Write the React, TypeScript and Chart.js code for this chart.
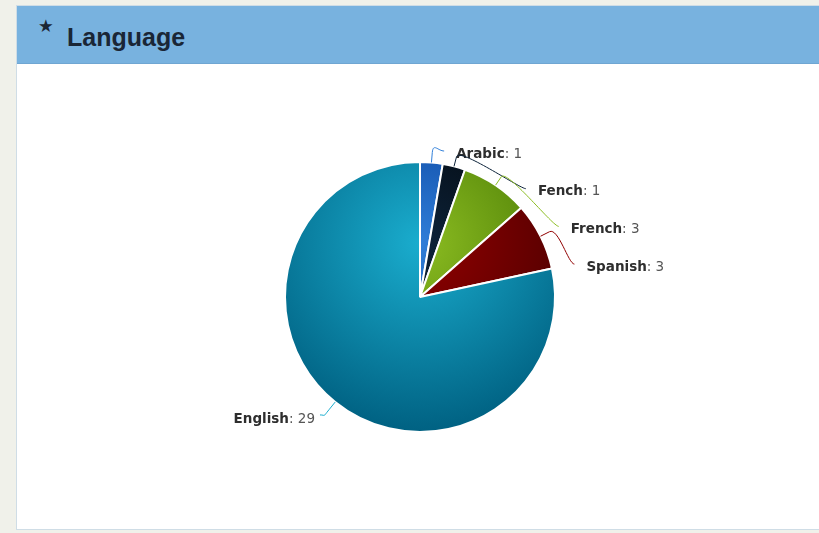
import React, { useEffect, useRef } from "react";
import { Chart, registerables } from "chart.js";

Chart.register(...registerables);

const categories = ["Arabic", "Fench", "French", "Spanish", "English"];
const counts = [1, 1, 3, 3, 29];
const baseColors = ["#2f7ed8", "#0d233a", "#8bbc21", "#910000", "#1aadce"];
const chartTitle = "Language";

const PIE_R = 135;

function darken(hex: string, amt: number) {
  const n = parseInt(hex.slice(1), 16);
  const r = Math.max(0, Math.min(255, ((n >> 16) & 255) + amt));
  const g = Math.max(0, Math.min(255, ((n >> 8) & 255) + amt));
  const b = Math.max(0, Math.min(255, (n & 255) + amt));
  return `rgb(${r},${g},${b})`;
}

const labelPlugin = {
  id: "pieLabels",
  afterDatasetsDraw(chart: any) {
    const meta = chart.getDatasetMeta(0);
    const ctx = chart.ctx;
    const arcs = meta.data;
    if (!arcs.length) return;
    const cx = arcs[0].x;
    const cy = arcs[0].y;
    const r = arcs[0].outerRadius;
    const Rn = r + 23;
    const A = 171;
    const B = 146.5;
    const spacing = 37.7;
    const items = arcs.map((arc: any, i: number) => {
      const mid = (arc.startAngle + arc.endAngle) / 2;
      return {
        i,
        mid,
        right: Math.cos(mid) >= 0,
        ny: cy + Rn * Math.sin(mid),
        y: 0,
      };
    });
    const distribute = (list: any[]) => {
      list.sort((a, b) => a.ny - b.ny);
      let prev = -Infinity;
      list.forEach((it, k) => {
        let y = it.ny;
        if (k === 0) y = Math.max(y, cy - r - 8);
        y = Math.max(y, prev + spacing);
        it.y = y;
        prev = y;
      });
    };
    distribute(items.filter((it: any) => it.right));
    distribute(items.filter((it: any) => !it.right));

    const fontBold = 'bold 13.5px "DejaVu Sans"';
    const fontNorm = '13.5px "DejaVu Sans"';
    items.forEach((it: any) => {
      const dy = it.y - cy;
      const off = A * Math.sqrt(Math.max(0, 1 - (dy / B) * (dy / B)));
      const name = categories[it.i];
      const val = ": " + counts[it.i];
      ctx.save();
      ctx.font = fontBold;
      const wName = ctx.measureText(name).width;
      ctx.font = fontNorm;
      const wVal = ctx.measureText(val).width;
      let textX: number;
      let ax: number;
      let ay: number;
      if (it.right) {
        textX = cx + off - 1;
        ax = textX - 12;
        ay = it.y - 3;
      } else {
        const end = cx - off - 12;
        textX = end - wName - wVal;
        ax = end + 5;
        ay = it.y - 5;
      }
      const ex = cx + r * Math.cos(it.mid);
      const ey = cy + r * Math.sin(it.mid);
      const bx = cx + (r + 10) * Math.cos(it.mid);
      const by = cy + (r + 10) * Math.sin(it.mid);
      ctx.strokeStyle = baseColors[it.i];
      ctx.lineWidth = 1;
      ctx.beginPath();
      ctx.moveTo(ax, ay);
      ctx.bezierCurveTo(ax + (it.right ? -6 : 6), ay, 2 * bx - ex, 2 * by - ey, bx, by);
      ctx.lineTo(ex, ey);
      ctx.stroke();

      ctx.textBaseline = "middle";
      ctx.textAlign = "left";
      ctx.font = fontBold;
      ctx.fillStyle = "#2e2e2e";
      ctx.fillText(name, textX, it.y);
      ctx.font = fontNorm;
      ctx.fillStyle = "#555555";
      ctx.fillText(val, textX + wName, it.y);
      ctx.restore();
    });
  },
};

export default function App() {
  const ref = useRef<HTMLCanvasElement | null>(null);
  useEffect(() => {
    if (!ref.current) return;
    const chart = new Chart(ref.current, {
      type: "pie",
      data: {
        labels: categories,
        datasets: [
          {
            data: counts,
            backgroundColor: (c: any) => {
              const ch = c.chart;
              const a = ch.chartArea;
              const idx = c.dataIndex ?? 0;
              if (!a) return baseColors[idx];
              const cx = (a.left + a.right) / 2;
              const cy = (a.top + a.bottom) / 2;
              const g = ch.ctx.createRadialGradient(cx, cy - 0.4 * PIE_R, 0, cx, cy - 0.4 * PIE_R, 1.4 * PIE_R);
              g.addColorStop(0, baseColors[idx]);
              g.addColorStop(1, darken(baseColors[idx], -76));
              return g;
            },
            borderColor: "#ffffff",
            borderWidth: 2,
            hoverOffset: 0,
            offset: 0,
            radius: PIE_R,
          } as any,
        ],
      },
      options: {
        responsive: false,
        animation: false,
        events: [],
        layout: { padding: { left: 21, right: 0, top: 61, bottom: 0 } },
        plugins: {
          legend: { display: false },
          tooltip: { enabled: false },
        },
      },
      plugins: [labelPlugin],
    });
    return () => chart.destroy();
  }, []);

  return (
    <div
      style={{
        position: "fixed",
        left: 0,
        top: 0,
        width: 819,
        height: 533,
        background: "#f0f1ea",
        overflow: "hidden",
      }}
    >
      <div
        style={{
          position: "absolute",
          left: 16,
          top: 5,
          width: 830,
          height: 525,
          background: "#ffffff",
          border: "1px solid #cfdde6",
          boxSizing: "border-box",
        }}
      />
      <div
        style={{
          position: "absolute",
          left: 17,
          top: 6,
          width: 830,
          height: 58,
          background: "#78b2df",
          borderBottom: "1px solid #6fa6d2",
          boxSizing: "border-box",
        }}
      />
      <span
        style={{
          position: "absolute",
          left: 38,
          top: 18,
          fontFamily: '"DejaVu Sans"',
          fontSize: 17.5,
          lineHeight: 1,
          color: "#1b2533",
        }}
      >
        ★
      </span>
      <span
        style={{
          position: "absolute",
          left: 67,
          top: 25,
          fontFamily: '"Liberation Sans", Arial',
          fontWeight: "bold",
          fontSize: 25,
          lineHeight: 1,
          color: "#1a2636",
        }}
      >
        {chartTitle}
      </span>
      <canvas
        ref={ref}
        width={819}
        height={533}
        style={{ position: "absolute", left: 0, top: 0, width: 819, height: 533 }}
      />
    </div>
  );
}
